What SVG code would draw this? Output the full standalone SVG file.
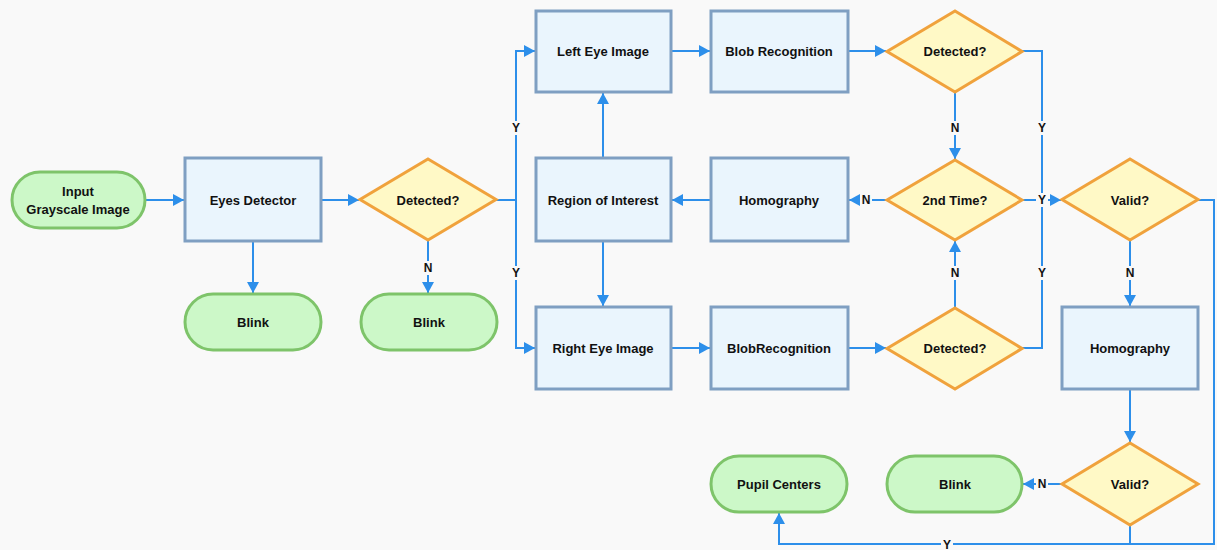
<svg xmlns="http://www.w3.org/2000/svg" width="1217" height="550" viewBox="0 0 1217 550">
<style>
.bg{fill:#f9f9f9}
.term{fill:#ccf8c8;stroke:#7ec46a;stroke-width:3}
.proc{fill:#eaf5fd;stroke:#7f9fc2;stroke-width:3}
.dec{fill:#fff9c6;stroke:#f0a23c;stroke-width:3}
.t{font-family:"Liberation Sans",Arial,sans-serif;font-weight:bold;font-size:13px;fill:#111;text-anchor:middle;dominant-baseline:central}
.c{fill:none;stroke:#2d8fea;stroke-width:2}
.lb{fill:#f9f9f9}
.l{font-family:"Liberation Sans",Arial,sans-serif;font-weight:bold;font-size:12px;fill:#111;text-anchor:middle;dominant-baseline:central}
</style>
<defs>
<marker id="a" markerUnits="userSpaceOnUse" markerWidth="12" markerHeight="12" refX="11" refY="6" orient="auto">
<path d="M0,0 L11,6 L0,12 z" fill="#2d8fea"/>
</marker>
</defs>
<rect class="bg" x="0" y="0" width="1217" height="550"/>
<g id="connectors">
<path class="c" d="M145,200 H184" marker-end="url(#a)"/>
<path class="c" d="M253,241 V293" marker-end="url(#a)"/>
<path class="c" d="M321,200 H359" marker-end="url(#a)"/>
<path class="c" d="M428,240 V293" marker-end="url(#a)"/>
<path class="c" d="M496,200 H516"/>
<path class="c" d="M516,200 V51 H535" marker-end="url(#a)"/>
<path class="c" d="M516,200 V348 H535" marker-end="url(#a)"/>
<path class="c" d="M603,158 V93" marker-end="url(#a)"/>
<path class="c" d="M603,241 V306" marker-end="url(#a)"/>
<path class="c" d="M671,51 H710" marker-end="url(#a)"/>
<path class="c" d="M711,200 H672" marker-end="url(#a)"/>
<path class="c" d="M671,348 H710" marker-end="url(#a)"/>
<path class="c" d="M848,51 H886" marker-end="url(#a)"/>
<path class="c" d="M848,348 H886" marker-end="url(#a)"/>
<path class="c" d="M955,92 V159" marker-end="url(#a)"/>
<path class="c" d="M955,308 V241" marker-end="url(#a)"/>
<path class="c" d="M887,200 H849" marker-end="url(#a)"/>
<path class="c" d="M1022,200 H1061" marker-end="url(#a)"/>
<path class="c" d="M1022,51 H1042 V348 H1022"/>
<path class="c" d="M1130,240 V306" marker-end="url(#a)"/>
<path class="c" d="M1198,200 H1214 V544 H779 V513" marker-end="url(#a)"/>
<path class="c" d="M1130,389 V442" marker-end="url(#a)"/>
<path class="c" d="M1062,484 H1023" marker-end="url(#a)"/>
<path class="c" d="M1130,525 V544"/>
<rect class="lb" x="422" y="261" width="12" height="14"/><text class="l" x="428" y="268">N</text>
<rect class="lb" x="510" y="121" width="12" height="14"/><text class="l" x="516" y="128">Y</text>
<rect class="lb" x="510" y="266" width="12" height="14"/><text class="l" x="516" y="273">Y</text>
<rect class="lb" x="949" y="121" width="12" height="14"/><text class="l" x="955" y="128">N</text>
<rect class="lb" x="949" y="266" width="12" height="14"/><text class="l" x="955" y="273">N</text>
<rect class="lb" x="860" y="193" width="12" height="14"/><text class="l" x="866" y="200">N</text>
<rect class="lb" x="1036" y="193" width="12" height="14"/><text class="l" x="1042" y="200">Y</text>
<rect class="lb" x="1036" y="121" width="12" height="14"/><text class="l" x="1042" y="128">Y</text>
<rect class="lb" x="1036" y="266" width="12" height="14"/><text class="l" x="1042" y="273">Y</text>
<rect class="lb" x="1124" y="266" width="12" height="14"/><text class="l" x="1130" y="273">N</text>
<rect class="lb" x="1036" y="477" width="12" height="14"/><text class="l" x="1042" y="484">N</text>
<rect class="lb" x="941" y="538" width="12" height="12"/><text class="l" x="947" y="545">Y</text>
</g>
<g id="input"><rect class="term" x="12" y="172" width="133" height="56" rx="28"/><text class="t" x="78" y="191">Input</text><text class="t" x="78" y="209">Grayscale Image</text></g>
<g id="eyes-detector"><rect class="proc" x="185" y="158" width="136" height="83"/><text class="t" x="253" y="200">Eyes Detector</text></g>
<g id="detected-1"><path class="dec" d="M428,159 L496,199.5 L428,240 L360,199.5 Z"/><text class="t" x="428" y="200">Detected?</text></g>
<g id="blink-1"><rect class="term" x="185" y="294" width="136" height="56" rx="28"/><text class="t" x="253" y="322">Blink</text></g>
<g id="blink-2"><rect class="term" x="361" y="294" width="136" height="56" rx="28"/><text class="t" x="429" y="322">Blink</text></g>
<g id="left-eye"><rect class="proc" x="536" y="11" width="135" height="81"/><text class="t" x="603" y="51">Left Eye Image</text></g>
<g id="roi"><rect class="proc" x="536" y="158" width="135" height="83"/><text class="t" x="603" y="200">Region of Interest</text></g>
<g id="right-eye"><rect class="proc" x="536" y="307" width="135" height="82"/><text class="t" x="603" y="348">Right Eye Image</text></g>
<g id="blob-1"><rect class="proc" x="711" y="11" width="137" height="81"/><text class="t" x="779" y="51">Blob Recognition</text></g>
<g id="homography-1"><rect class="proc" x="711" y="158" width="137" height="83"/><text class="t" x="779" y="200">Homography</text></g>
<g id="blob-2"><rect class="proc" x="711" y="307" width="137" height="82"/><text class="t" x="779" y="348">BlobRecognition</text></g>
<g id="detected-2"><path class="dec" d="M955,11 L1022,51.5 L955,92 L887,51.5 Z"/><text class="t" x="955" y="51">Detected?</text></g>
<g id="second-time"><path class="dec" d="M955,160 L1022,200 L955,240 L887,200 Z"/><text class="t" x="955" y="200">2nd Time?</text></g>
<g id="detected-3"><path class="dec" d="M955,308 L1022,348.5 L955,389 L887,348.5 Z"/><text class="t" x="955" y="348">Detected?</text></g>
<g id="valid-1"><path class="dec" d="M1130,159 L1198,199.5 L1130,240 L1062,199.5 Z"/><text class="t" x="1130" y="200">Valid?</text></g>
<g id="homography-2"><rect class="proc" x="1062" y="307" width="136" height="82"/><text class="t" x="1130" y="348">Homography</text></g>
<g id="valid-2"><path class="dec" d="M1130,443 L1198,484 L1130,525 L1062,484 Z"/><text class="t" x="1130" y="484">Valid?</text></g>
<g id="blink-3"><rect class="term" x="887" y="456" width="135" height="56" rx="28"/><text class="t" x="955" y="484">Blink</text></g>
<g id="pupil-centers"><rect class="term" x="711" y="456" width="136" height="56" rx="28"/><text class="t" x="779" y="484">Pupil Centers</text></g>
</svg>
